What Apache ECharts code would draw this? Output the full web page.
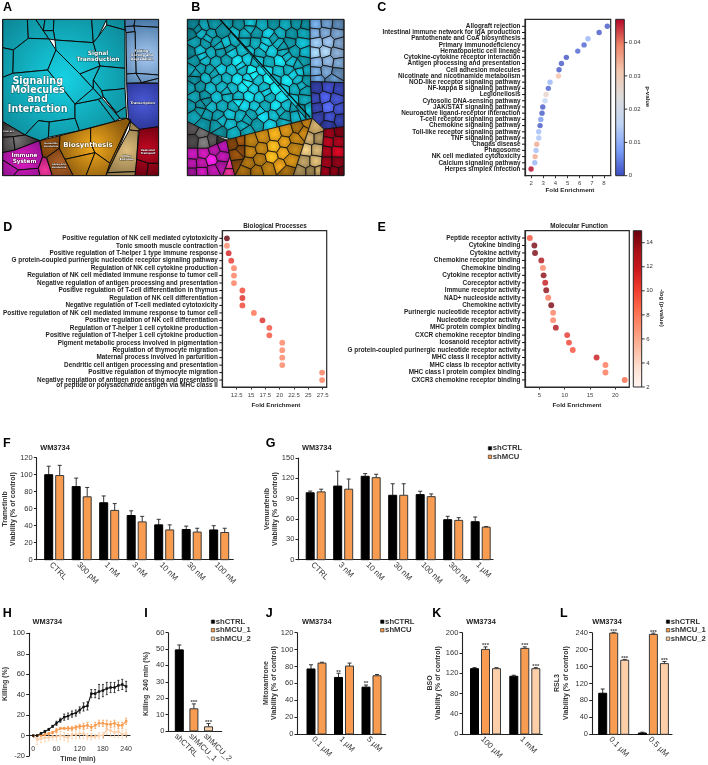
<!DOCTYPE html>
<html><head><meta charset="utf-8">
<style>html,body{margin:0;padding:0;background:#fff}#c{width:708px;height:765px}</style>
<script src="https://cdn.jsdelivr.net/npm/echarts@6/dist/echarts.min.js"></script>
</head><body><div id="c"></div>
<script>
// ---------- Panel C ----------
const cTerms=['Allograft rejection','Intestinal immune network for IgA production','Pantothenate and CoA biosynthesis','Primary immunodeficiency','Hematopoietic cell lineage','Cytokine-cytokine receptor interaction','Antigen processing and presentation','Cell adhesion molecules','Nicotinate and nicotinamide metabolism','NOD-like receptor signaling pathway','NF-kappa B signaling pathway','Legionellosis','Cytosolic DNA-sensing pathway','JAK/STAT signaling pathway','Neuroactive ligand-receptor interaction','T-cell receptor signaling pathway','Chemokine signaling pathway','Toll-like receptor signaling pathway','TNF signaling pathway','Chagas disease','Phagosome','NK cell mediated cytotoxicity','Calcium signaling pathway','Herpes simplex infection'];
const cFold=[8.27,7.6,6.68,6.36,5.84,4.9,4.5,4.3,4.25,3.56,3.42,3.23,3.15,2.96,2.9,2.8,2.74,2.63,2.63,2.47,2.41,2.33,2.3,2.0];
const cP=[.001,.001,.011,.002,.002,.0005,.001,.001,.032,.011,.002,.027,.016,.001,.001,.007,.001,.012,.013,.035,.012,.035,.011,.047];
// ---------- Panel D ----------
const dTerms=['Positive regulation of NK cell mediated cytotoxicity','Tonic smooth muscle contraction','Positive regulation of T-helper 1 type immune response','G protein-coupled purinergic nucleotide receptor signaling pathway','Regulation of NK cell cytokine production','Regulation of NK cell mediated immune response to tumor cell','Negative regulation of antigen processing and presentation','Positive regulation of T-cell differentiation in thymus','Regulation of NK cell differentiation','Negative regulation of T-cell mediated cytotoxicity','Positive regulation of NK cell mediated immune response to tumor cell','Positive regulation of NK cell differentiation','Regulation of T-helper 1 cell cytokine production','Positive regulation of T-helper 1 cell cytokine production','Pigment metabolic process involved in pigmentation','Regulation of thymocyte migration','Maternal process involved in parturition','Dendritic cell antigen processing and presentation','Positive regulation of thymocyte migration','Negative regulation of antigen processing and presentation\nof peptide or polysaccharide antigen via MHC class II'];
const dFold=[10.8,10.8,11.1,11.55,12.03,12.03,12.03,13.5,13.5,13.5,15.5,17,18.2,18.2,20.45,20.45,20.45,20.45,27.4,27.4];
const dLog=[15,7.3,11.5,10.5,7.8,7.8,7.8,9.8,11,10,8.5,11,9.5,9.5,7.5,7.5,7.5,7.5,7.8,7.8];
// ---------- Panel E ----------
const eTerms=['Peptide receptor activity','Cytokine binding','Cytokine activity','Chemokine receptor binding','Chemokine binding','Cytokine receptor activity','Coreceptor activity','Immune receptor activity','NAD+ nucleoside activity','Chemokine activity','Purinergic nucleotide receptor activity','Nucleotide receptor activity','MHC protein complex binding','CXCR chemokine receptor binding','Icosanoid receptor activity','G protein-coupled purinergic nucleotide receptor activity','MHC class II receptor activity','MHC class Ib receptor activity','MHC class I protein complex binding','CXCR3 chemokine receptor binding'];
const eFold=[3.13,4.03,4.16,5.4,5.72,5.85,6.17,6.37,6.76,7.35,7.73,7.73,8.26,10.5,10.85,11.6,16.3,18.05,18.05,21.85];
const eLog=[9.5,14.5,14.5,13,7.5,14,12,14,8,14.5,7.6,7.6,13,10.5,10,9.5,12,8,8,8.6];
// ---------- Bar panels ----------
const fCats=['CTRL','300 pM','1 nM','3 nM','10 nM','30 nM','100 nM'];
const fCtrl=[100,86,67,52,41,35.5,35], fCtrlErr=[10,10,8,5.5,6.5,4,5];
const fMcu=[99,74,58,44.5,35,32.5,32], fMcuErr=[12,11,8,6.5,6,4.5,5];
const gCats=['CTRL','3 nM','10 nM','30 nM','100 nM','300 nM','1 µM'];
const gCtrl=[98.7,108.6,123,95,96,59,56], gCtrlErr=[2.5,22,4,17,5,5,7];
const gMcu=[100,104,121,95,93,58,48], gMcuErr=[4,15,5,17,4,4,1];
const iCats=['shCTRL','shMCU_1','shMCU_2'];
const iVals=[49.5,13.5,2.5], iErr=[3,3,2], iStars=[0,3,3];
const jCats=['0.1 µM','1 µM','5 µM'];
const jCtrl=[77,67,55.5], jCtrlErr=[5,5,2.5], jCtrlStars=[0,2,2];
const jMcu=[84,80.5,69], jMcuErr=[1,3.5,1.5];
const kCats=['100 µM','1 mM'];
const kCtrl=[129,114], kCtrlErr=[2,2];
const kMcu1=[167,169], kMcu1Err=[5,3], kMcu1Stars=[3,3];
const kMcu2=[129,129], kMcu2Err=[2,2], kMcu2Stars=[0,3];
const lCats=['0.1 µM','0.5 µM'];
const lCtrl=[97,3], lCtrlErr=[10,2];
const lMcu1=[239,236], lMcu1Err=[2,3], lMcu1Stars=[3,3];
const lMcu2=[175,167], lMcu2Err=[2,5], lMcu2Stars=[3,3];
// ---------- Panel H ----------
const hTime=[0,10,20,30,40,50,60,70,80,90,100,110,120,130,140,150,160,170,180,190,200,210,220,230,240];
const hCtrl=[0,0,2,4,6,9,12,15,18,19,21,22,25,28,29,41,41,43,44,46,47,47,49,50,48];
const hCtrlErr=[0,1,1,1,1,1,2,2,3,3,3,3,3,4,4,4,4,7,6,6,5,5,5,5,5];
const hMcu1=[0,0,0,1,2,3,5,7,7,7,7,8,9,9,10,8,10,12,12,11,11,12,10,10,14];
const hMcu1Err=[0,1,1,1,1,1,2,1,1,2,2,2,2,3,3,3,3,3,3,4,3,3,3,3,3];
const hMcu2=[0,-4,-3,-2,-2,-1,-1,0,-1,-2,1,1,2,2,-1,-1,-1,0,0,6,5,3,4,1,2];
const hMcu2Err=[1,5,4,4,3,3,4,4,4,4,4,4,5,5,3,3,2,3,3,5,6,5,6,4,4];
// ---------- Panel A: pathway cells (region, vertices) ----------
const aCells=[
['teal',[[8,58],[82,58],[85,115],[40,150],[8,143]]],['teal',[[82,58],[107,58],[147,117],[85,115]]],
['teal',[[40,150],[85,115],[147,117],[168,150],[143,210],[38,220]]],['teal',[[8,143],[40,150],[38,220],[8,232]]],
['teal',[[8,232],[38,220],[143,210],[225,312],[225,355],[148,366],[115,362],[75,405],[8,365]]],
['teal',[[143,210],[168,150],[240,222],[280,265],[225,312]]],['teal',[[225,312],[295,298],[345,364],[238,392],[225,355]]],
['teal',[[225,312],[280,265],[305,293],[295,298]]],['teal',[[295,298],[305,293],[360,355],[345,364]]],
['teal',[[115,362],[148,366],[145,412],[120,422],[75,405]]],['teal',[[148,366],[225,355],[238,392],[145,412]]],
['teal',[[107,58],[135,58],[130,92]]],['teal',[[135,58],[162,58],[160,92],[130,92]]],
['teal',[[162,58],[275,58],[280,128],[165,120],[160,92]]],['teal',[[130,92],[160,92],[165,120],[147,117]]],
['teal',[[275,58],[320,58],[295,110],[280,128]]],['teal',[[320,58],[375,58],[375,90],[320,75]]],
['teal',[[165,120],[280,128],[300,198],[240,222],[168,150]]],['teal',[[295,110],[320,75],[375,90],[375,205],[300,198],[280,128]]],
['teal',[[300,198],[375,205],[375,265],[355,268],[305,272],[280,240]]],['teal',[[240,222],[300,198],[280,240],[280,265]]],
['teal',[[280,240],[305,272],[310,290],[305,293],[280,265]]],['teal',[[305,272],[355,268],[375,265],[378,320],[350,338],[310,290]]],
['teal',[[310,290],[350,338],[378,320],[380,355],[360,355]]],
['ltblue',[[375,58],[405,58],[402,78],[375,80]]],['ltblue',[[405,58],[476,58],[476,82],[402,78]]],
['ltblue',[[375,80],[402,78],[405,95],[378,98]]],['ltblue',[[405,95],[402,78],[476,82],[476,225],[408,220]]],
['ltblue',[[378,98],[405,95],[408,220],[380,222]]],['ltblue',[[380,222],[408,220],[425,248],[380,250]]],
['ltblue',[[408,220],[476,225],[476,235],[425,248]]],['ltblue',[[425,248],[476,235],[476,250]]],
['dkblue',[[380,250],[476,250],[476,380],[418,390],[385,357]]],
['gray',[[8,365],[75,405],[40,410],[8,412]]],['gray',[[8,412],[40,410],[45,450],[8,458]]],['gray',[[40,410],[75,405],[118,422],[45,450]]],
['magenta',[[8,458],[45,450],[118,422],[128,470],[115,505],[55,510],[8,480]]],['magenta',[[8,480],[55,510],[40,527],[8,527]]],
['magenta',[[55,510],[115,505],[120,527],[40,527]]],['pink',[[128,470],[140,475],[157,527],[120,527],[115,505]]],
['brown',[[120,422],[180,407],[178,445],[140,472],[128,470]]],['brown2',[[140,472],[178,445],[195,478],[220,527],[157,527]]],
['gold',[[180,407],[272,384],[272,430],[285,458],[195,478],[178,445]]],['gold',[[272,384],[380,355],[392,360],[330,490],[285,458],[272,430]]],
['gold',[[195,478],[285,458],[258,527],[220,527]]],['gold',[[285,458],[330,490],[318,527],[258,527]]],
['gold',[[330,490],[392,360],[350,460],[322,518],[318,527]]],
['tan',[[380,355],[418,388],[415,393],[388,390],[392,360]]],['tan',[[388,390],[415,393],[408,515],[322,518],[350,460]]],
['tan',[[322,518],[408,515],[405,527],[318,527]]],
['red',[[418,388],[476,380],[476,490],[445,490],[410,478]]],['red',[[410,478],[445,490],[440,527],[405,527]]],['red',[[445,490],[476,490],[476,527],[440,527]]]
];
// ---------- Panel B: region outlines and cell centres ----------
const bRegions={
teal1:{c:'teal',poly:[[562,58],[660,58],[920,358],[695,418],[640,403],[562,365]],seeds:[[581,74],[612,78],[640,71],[574,102],[603,98],[634,104],[664,96],[586,127],[617,131],[646,125],[681,130],[702,124],[570,156],[601,152],[633,158],[661,154],[696,157],[726,150],[586,184],[614,180],[649,186],[679,182],[713,185],[743,180],[766,186],[571,210],[603,206],[629,212],[664,207],[694,211],[728,208],[754,212],[786,209],[585,237],[619,233],[650,238],[681,234],[711,238],[746,235],[774,240],[806,236],[570,263],[601,260],[631,265],[666,261],[697,265],[731,262],[759,267],[793,263],[826,266],[586,291],[614,288],[651,293],[682,289],[716,292],[747,288],[779,293],[807,290],[846,292],[571,319],[603,316],[634,321],[666,317],[701,320],[731,316],[766,321],[794,318],[829,320],[859,317],[884,322],[586,346],[621,343],[654,348],[691,344],[721,348],[756,344],[789,349],[823,345],[854,349],[889,346],[611,372],[651,376],[689,372],[731,376],[771,372],[811,376],[849,368],[662,394],[701,398],[741,392],
[595,88],[626,116],[658,140],[690,146],[608,170],[722,198],[640,222],[760,226],[586,222],[680,276],[742,250],[800,278],[618,304],[716,306],[780,332],[740,360],[664,362],[600,332],[840,334],[905,340]]},
teal2:{c:'teal',poly:[[660,58],[930,58],[932,245],[937,355],[920,358]],seeds:[[681,71],[716,74],[751,70],[786,75],[821,71],[856,74],[891,70],[917,75],[701,98],[736,102],[769,98],[806,103],[841,99],[874,102],[911,99],[736,127],[766,130],[801,126],[836,130],[869,127],[906,130],[746,154],[781,157],[814,153],[851,157],[884,154],[916,157],[776,184],[806,187],[841,183],[874,186],[911,184],[801,212],[836,214],[867,210],[899,214],[921,211],[826,240],[861,242],[894,238],[920,243],[851,270],[886,268],[914,272],[881,300],[911,298],[906,330],[926,328],
[750,86],[820,115],[792,142],[860,170],[895,196],[880,224],[905,258],[848,140]]},
ltblue:{c:'ltblue',poly:[[930,58],[1032,58],[1032,248],[932,245]],seeds:[[948,72],[980,70],[1015,73],[945,100],[975,98],[1010,101],[950,128],[985,125],[1018,130],[945,158],[975,155],[1010,160],[950,188],[985,185],[1015,190],[948,215],[980,212],[1012,218],[950,238],[1000,238]]},
dkblue:{c:'dkblue',poly:[[932,245],[1032,248],[1032,380],[972,388],[937,355]],seeds:[[950,265],[985,262],[1018,268],[945,295],[975,292],[1008,298],[950,325],[985,322],[1018,328],[955,350],[990,352],[1020,358],[985,376]]},
gray:{c:'gray',poly:[[562,365],[640,403],[680,420],[620,445],[562,445]],seeds:[[578,385],[605,400],[580,422],[610,425],[640,418],[662,420]]},
magenta:{c:'magenta',poly:[[562,445],[620,445],[680,420],[690,470],[668,527],[562,527]],seeds:[[578,462],[610,460],[645,450],[670,440],[575,492],[605,490],[635,480],[665,470],[575,517],[605,515],[640,510],[663,498]]},
pink:{c:'pink',poly:[[690,470],[705,527],[668,527]],seeds:[[688,495],[688,517]]},
brown:{c:'brown',poly:[[680,420],[735,405],[735,470],[705,527],[690,470]],seeds:[[700,432],[724,425],[708,465],[725,448],[712,495]]},
gold:{c:'gold',poly:[[735,405],[937,355],[880,527],[705,527],[735,470]],seeds:[[755,425],[790,412],[825,405],[860,395],[895,385],[925,368],[750,455],[785,445],[820,440],[855,425],[885,415],[910,395],[745,490],[780,478],[815,470],[850,460],[880,445],[735,515],[770,515],[805,505],[840,495],[870,480],[860,515]]},
tan:{c:'tan',poly:[[937,355],[972,388],[962,527],[880,527]],seeds:[[945,385],[930,415],[955,415],[920,450],[950,450],[915,485],[945,485],[900,515],[935,515],[955,515]]},
red:{c:'red',poly:[[972,388],[1032,380],[1032,527],[962,527]],seeds:[[990,400],[1018,395],[985,425],[1015,425],[980,455],[1012,455],[980,488],[1012,488],[975,515],[1005,515],[1025,518]]}
};
const bDivider=[[660,58],[930,352]];
// ---------- Styling ----------
const FONT='"Liberation Sans",Arial,sans-serif';
const INK='#222', GREY='#333';
const ORANGE='#F79C50', LIGHT='#FCCFA8';
const REDS=['#fff5f0','#fee0d2','#fcbba1','#fc9272','#fb6a4a','#ef3b2c','#cb181d','#a50f15','#67000d'];
const COOL=['#3b4cc0','#7b9ff9','#c0d4f5','#dddcdc','#f4c6ae','#ee8468','#b40426'];
const PAL={teal:['#16d2e4','#0b7785'],ltblue:['#a8c9f0','#4a7aaa'],dkblue:['#4a5ad8','#28328e'],gray:['#757575','#2a2226'],magenta:['#e41cc4','#7c1084'],pink:['#f0389a','#b01a78'],brown:['#9c5410','#6e3a0a'],brown2:['#b0622a','#7a4014'],gold:['#f4ac1c','#8c5a0e'],tan:['#dcbc7c','#8c7444'],red:['#c40822','#6c0010']};
const GLOW_A={teal:[190,235,300],ltblue:[440,170,110],dkblue:[430,310,90],gray:[50,420,70],magenta:[70,480,90],pink:[135,510,40],brown:[150,435,50],brown2:[180,490,50],gold:[280,440,110],tan:[380,450,90],red:[440,450,80]};
const GLOW_B={teal:[770,240,280],ltblue:[985,150,110],dkblue:[985,310,90],gray:[610,410,70],magenta:[620,480,90],pink:[685,505,40],brown:[710,450,50],gold:[830,440,130],tan:[930,450,90],red:[1000,450,80]};
const TONES=[0.95,1.12,1.0,0.88,1.2,1.04,0.9,1.08,0.98];

function hex(h){const n=parseInt(h.slice(1),16);return[n>>16,(n>>8)&255,n&255];}
function mix(a,b,t){const A=hex(a),B=hex(b);return A.map((v,i)=>v+(B[i]-v)*t);}
function css(c,f){return 'rgb('+c.map(v=>Math.max(0,Math.min(255,Math.round(v*f)))).join(',')+')';}
function clip(poly,a,b,c){const out=[];for(let i=0;i<poly.length;i++){const p=poly[i],q=poly[(i+1)%poly.length];const dp=a*p[0]+b*p[1]-c,dq=a*q[0]+b*q[1]-c;if(dp<=0)out.push(p);if((dp<0&&dq>0)||(dp>0&&dq<0)){const t=dp/(dp-dq);out.push([p[0]+(q[0]-p[0])*t,p[1]+(q[1]-p[1])*t]);}}return out;}
function cellsOf(reg){return reg.seeds.map((s,i)=>{let poly=reg.poly;reg.seeds.forEach((o,j)=>{if(j===i||!poly.length)return;const a=o[0]-s[0],b=o[1]-s[1];poly=clip(poly,a,b,a*(s[0]+o[0])/2+b*(s[1]+o[1])/2);});return{c:reg.c,s,poly};});}
const bCells=[];Object.values(bRegions).forEach(r=>cellsOf(r).forEach(c=>bCells.push(c)));

const grids=[],xAxes=[],yAxes=[],series=[],visualMaps=[],texts=[];
function T(text,x,y,size,opt){opt=opt||{};texts.push({type:'text',x,y,z:100,rotation:opt.rot||0,silent:true,style:{text,fill:opt.fill||INK,font:(opt.weight===undefined?'bold':opt.weight)+' '+size+'px '+FONT,align:opt.align||'center',verticalAlign:'middle',textAlign:opt.align||'center',textVerticalAlign:'middle',lineHeight:opt.lh||size+1,stroke:opt.stroke,lineWidth:opt.lw}});}
function addGrid(g,x,y){grids.push(Object.assign({containLabel:false},g));x.gridIndex=grids.length-1;y.gridIndex=grids.length-1;xAxes.push(x);yAxes.push(y);return grids.length-1;}
const lineS={onZero:false,lineStyle:{color:INK,width:1.1}};
const hidden={type:'value',show:false,splitLine:{show:false}};
const allLabels={showMinLabel:true,showMaxLabel:true,hideOverlap:false};
// side ticks drawn through the panel's own y scale: one short line per tick value
function sideTicks(i,vals,anchorX,dir,len,col){
  series.push({type:'custom',xAxisIndex:i,yAxisIndex:i,silent:true,animation:false,clip:false,z:4,data:vals.map(v=>[anchorX,v]),encode:{x:0,y:1},
    renderItem(p,api){const c=api.coord([api.value(0),api.value(1)]);return{type:'line',shape:{x1:c[0],y1:c[1],x2:c[0]+dir*len,y2:c[1]},style:{stroke:col,lineWidth:1}};}});
}

// ---- treemap panels ----
function treemapPanel(left,top,w,h,x0,x1,y0,y1,cells,local){
  const i=addGrid({left,top,width:w,height:h},Object.assign({},hidden,{min:x0,max:x1}),Object.assign({},hidden,{min:y0,max:y1,inverse:true}));
  series.push({type:'custom',xAxisIndex:i,yAxisIndex:i,clip:true,silent:true,animation:false,data:cells.map((c,k)=>[k]),
    renderItem(p,api){const k=api.value(0),c=cells[k];const pts=c.pts.map(v=>api.coord(v));if(pts.length<3)return;
      return{type:'polygon',shape:{points:pts},style:Object.assign({stroke:'#0b0b0b',lineWidth:local?0.8:1},{fill:c.fill(api)})};}});
  return i;
}
treemapPanel(2.67,19.33,156,156.33,8,476,58,527,aCells.map(([r,pts])=>({pts,fill(api){const g=GLOW_A[r],o=api.coord([g[0],g[1]]);const rr=g[2]/3;return{type:'radial',x:o[0],y:o[1],r:rr,global:true,colorStops:[{offset:0,color:PAL[r][0]},{offset:1,color:PAL[r][1]}]};}})));
const iB=treemapPanel(187.3,19.33,156.7,156.33,562,1032,58,527,bCells.map((c,k)=>({pts:c.poly,fill(){const g=GLOW_B[c.c]||GLOW_B.brown,d=Math.hypot(c.s[0]-g[0],c.s[1]-g[1])/g[2];const b=mix(PAL[c.c][1],PAL[c.c][0],Math.max(0,1-d)),t=TONES[k%TONES.length];return{type:'radial',x:.5,y:.5,r:.62,colorStops:[{offset:0,color:css(b,t*1.12)},{offset:1,color:css(b,t*0.84)}]};}})),true);
series.push({type:'custom',xAxisIndex:iB,yAxisIndex:iB,silent:true,animation:false,data:[0],renderItem(p,api){return{type:'polyline',shape:{points:bDivider.map(v=>api.coord(v))},style:{stroke:'#050505',lineWidth:1.3,fill:null}};}});
[[2.67,19.33,156,156.33],[187.3,19.33,156.7,156.33]].forEach(b=>texts.push({type:'rect',z:99,silent:true,shape:{x:b[0],y:b[1],width:b[2],height:b[3]},style:{fill:null,stroke:'#1a1a1a',lineWidth:1}}));
const tm={fill:'#fff',stroke:'rgba(0,0,0,.45)',lw:1};
T('Signaling\nMolecules\nand\nInteraction',37.7,95.2,9.6,Object.assign({lh:9.4},tm)); texts[texts.length-1].style.font='bold 9.6px "DejaVu Sans"';
[['Signal\nTransduction',98,56.5,5.9,6.8],['Biosynthesis',88,145,6.9,7],['Immune\nSystem',24.5,158.5,5.7,6.7],['Folding,\nSorting and\nDegradation',142,55,3.3,4],['Transcription',142.7,103,3.3,4],['Vesicular\nTransport',148,152,2.8,3.4],['Other\nEnzymes',126.7,158,2.8,3.4],['Cancers',8.5,131,2.4,3],['Nucleotide\nMetabolism',51,145,2.2,2.8],['Amino Acid\nMetabolism',59,166,2.2,2.8]].forEach(a=>{T(a[0],a[1],a[2],a[3],Object.assign({lh:a[4]},tm));texts[texts.length-1].style.font='bold '+a[3]+'px "DejaVu Sans"';});

// ---- dot panels ----
function dotPanel(o){
  const idx=o.terms.map((_,i)=>i);
  const labelAt=idx.map(v=>v+(o.terms[v].indexOf('\n')>=0?0.37:0));
  const i=addGrid({left:o.l,top:o.t,width:o.r-o.l,height:o.b-o.t,show:true,borderColor:'#2a2a2a',borderWidth:1.2,backgroundColor:'#fff'},
   {type:'value',min:o.xmin,max:o.xmax,position:'bottom',splitLine:{show:false},axisLine:{show:true,onZero:false,lineStyle:{color:'#2a2a2a',width:1.2}},axisTick:{show:true,length:2.5,lineStyle:{color:GREY,width:1},customValues:o.ticks},
    axisLabel:Object.assign({customValues:o.ticks,fontFamily:FONT,fontSize:6,color:'#444',margin:5,formatter:v=>String(v)},allLabels)},
   {type:'value',inverse:true,min:o.ymin,max:o.ymax,position:'left',splitLine:{show:false},axisLine:{show:true,onZero:false,lineStyle:{color:'#2a2a2a',width:1.2}},axisTick:{show:false},
    axisLabel:Object.assign({customValues:[o.ymin].concat(labelAt,[o.ymax]),fontFamily:FONT,fontSize:o.fs||6.4,fontWeight:'bold',color:'#1e1e1e',margin:4.5,lineHeight:5.4,formatter:v=>(v===o.ymin||v===o.ymax)?'':o.terms[Math.floor(v)]},allLabels)});
  const si=series.length;
  series.push({type:'scatter',xAxisIndex:i,yAxisIndex:i,symbolSize:o.size,animation:false,silent:true,data:o.terms.map((_,k)=>[o.fold[k],k,o.col[k]]),encode:{x:0,y:1}});
  visualMaps.push({show:false,seriesIndex:si,dimension:2,min:o.cmin,max:o.cmax,inRange:{color:o.cmap}});
  sideTicks(i,idx,o.xmin,-1,3,'#111');
}
function colorbar(o){
  const i=addGrid({left:o.l,top:o.t,width:o.w,height:o.h,show:false},Object.assign({},hidden,{min:0,max:1}),
   {type:'value',position:'right',min:o.min,max:o.max,splitLine:{show:false},axisLine:{show:false,onZero:false},axisTick:{show:false},
    axisLabel:Object.assign({customValues:o.ticks,fontFamily:FONT,fontSize:6,color:'#333',margin:4.5,formatter:v=>String(v)},allLabels)});
  series.push({type:'custom',xAxisIndex:i,yAxisIndex:i,silent:true,animation:false,data:[[0]],z:3,renderItem(p,api){const a=api.coord([0,o.max]),b=api.coord([1,o.min]);return{type:'rect',shape:{x:a[0],y:a[1],width:b[0]-a[0],height:b[1]-a[1]},style:{stroke:'#2a2a2a',lineWidth:1,fill:{type:'linear',x:0,y:1,x2:0,y2:0,colorStops:o.cmap.map((c,k)=>({offset:k/(o.cmap.length-1),color:c}))}}};}});
  sideTicks(i,o.ticks,1,1,3,'#333');
}
const rowScale=(t,b,first,pitch)=>({ymin:(t-first)/pitch,ymax:(b-first)/pitch});
dotPanel(Object.assign({terms:cTerms,fold:cFold,col:cP,l:525,r:610.7,t:19.3,b:175.7,xmin:1.5,xmax:8.55,ticks:[2,3,4,5,6,7,8],size:5.4,cmin:0,cmax:.047,cmap:COOL},rowScale(19.3,175.7,26.3,6.205)));
colorbar({l:615.7,t:19.3,w:8.6,h:156.4,min:0,max:.047,ticks:[0,.01,.02,.03,.04],cmap:COOL});
dotPanel(Object.assign({terms:dTerms,fold:dFold,col:dLog,l:222.3,r:326.7,t:230.7,b:387,xmin:10,xmax:28.2,ticks:[12.5,15,17.5,20,22.5,25,27.5],size:5.8,cmin:2,cmax:15,cmap:REDS},rowScale(230.7,387,238.3,7.46)));
dotPanel(Object.assign({terms:eTerms,fold:eFold,col:eLog,l:525,r:629.3,t:230.7,b:387,xmin:2.18,xmax:22.75,ticks:[5,10,15,20],size:5.9,cmin:2,cmax:15,cmap:REDS},rowScale(230.7,387,238,7.47)));
colorbar({l:633.3,t:230.7,w:8.4,h:156.3,min:2,max:15,ticks:[2,4,6,8,10,12,14],cmap:REDS});
T('p-value',648,96.7,6,{rot:-Math.PI/2});
T('-log (p-value)',661.7,308,6,{rot:-Math.PI/2});
T('Fold Enrichment',570,190.5,6.2);T('Fold Enrichment',276,405,6.2);T('Fold Enrichment',577,405,6.2);
T('Biological Processes',275,226,6.3);T('Molecular Function',579,226.7,6.3);

// ---- bar panels ----
function barPanel(o){
  const toIdx=px=>(px-o.first)/o.pitch;
  const shift=3.5/o.pitch,xmin=toIdx(o.l),xmax=toIdx(o.r);
  const vals=o.cats.map((_,i)=>i-shift);
  const i=addGrid({left:o.l,top:o.t,width:o.r-o.l,height:o.b-o.t},
   {type:'value',min:xmin,max:xmax,splitLine:{show:false},axisLine:lineS,axisTick:{show:false},
    axisLabel:Object.assign({customValues:[xmin].concat(vals,[xmax]),rotate:-45,fontFamily:FONT,fontSize:o.xfs||8,color:GREY,margin:4,lineHeight:7.5,formatter:v=>(v===xmin||v===xmax)?'':o.cats[Math.round(v+shift)]},allLabels)},
   {type:'value',min:0,max:o.ymax,interval:o.step,splitLine:{show:false},axisLine:lineS,axisTick:{show:true,length:2.8,lineStyle:{color:INK,width:1}},
    axisLabel:{fontFamily:FONT,fontSize:7.5,color:GREY,margin:4}});
  const data=[];
  o.rows.forEach((r,k)=>r.vals.forEach((v,g)=>data.push([g,k,v,r.errs[g],(r.stars||[])[g]||0,(r.colors?r.colors[g]:r.color)])));
  const colors=data.map(d=>d[5]);
  series.push({type:'custom',xAxisIndex:i,yAxisIndex:i,silent:true,animation:false,clip:false,encode:{x:0,y:2},data:data.map(d=>d.slice(0,5)),
   renderItem(p,api){const g=api.value(0),k=api.value(1),v=api.value(2),e=api.value(3),st=api.value(4);
    const cx=api.coord([g,0])[0]+(k-(o.rows.length-1)/2)*(o.gap||0),base=api.coord([g,0])[1],top=api.coord([g,v])[1],eT=api.coord([g,v+e])[1];
    const col=colors[p.dataIndex],w=o.bw||8;
    const kids=[{type:'line',shape:{x1:cx,y1:top,x2:cx,y2:eT},style:{stroke:'#333',lineWidth:1}},{type:'line',shape:{x1:cx-2,y1:eT,x2:cx+2,y2:eT},style:{stroke:'#333',lineWidth:1}},
      {type:'rect',shape:{x:cx-w/2,y:top,width:w,height:base-top},style:{fill:col,stroke:col==='#000'?'#000':'#3a3a3a',lineWidth:1}}];
    if(st)kids.push({type:'text',x:cx,y:eT-1.2,style:{text:'*'.repeat(st),fill:'#444',font:'bold 6px '+FONT,align:'center',verticalAlign:'middle',textAlign:'center',textVerticalAlign:'middle'}});
    return{type:'group',children:kids};}});
}
const K='#000';
barPanel({cats:fCats,l:36.7,r:233.3,t:457.7,b:559.7,ymax:120,step:20,first:54.2,pitch:27.5,gap:11,rows:[{vals:fCtrl,errs:fCtrlErr,color:K},{vals:fMcu,errs:fMcuErr,color:ORANGE}]});
barPanel({cats:gCats,l:298.3,r:493,t:458,b:559.7,ymax:150,step:30,first:315.7,pitch:27.5,gap:11,rows:[{vals:gCtrl,errs:gCtrlErr,color:K},{vals:gMcu,errs:gMcuErr,color:ORANGE}]});
barPanel({cats:iCats,l:168.3,r:221.7,t:632.7,b:735,ymax:60,step:10,first:179.3,pitch:14.6,gap:0,rows:[{vals:iVals,errs:iErr,stars:iStars,colors:[K,ORANGE,LIGHT]}]});
barPanel({cats:jCats,l:297.3,r:385.7,t:632.7,b:734,ymax:120,step:20,first:316.5,pitch:27.5,gap:11,rows:[{vals:jCtrl,errs:jCtrlErr,stars:jCtrlStars,color:K},{vals:jMcu,errs:jMcuErr,color:ORANGE}]});
barPanel({cats:kCats,l:462.3,r:542.3,t:632.7,b:734,ymax:200,step:40,first:485.5,pitch:39.3,gap:11,rows:[{vals:kCtrl,errs:kCtrlErr,color:K},{vals:kMcu1,errs:kMcu1Err,stars:kMcu1Stars,color:ORANGE},{vals:kMcu2,errs:kMcu2Err,stars:kMcu2Stars,color:LIGHT}]});
barPanel({cats:lCats,l:592,r:672,t:632.7,b:734.3,ymax:240,step:40,first:613.7,pitch:39.7,gap:11,rows:[{vals:lCtrl,errs:lCtrlErr,color:K},{vals:lMcu1,errs:lMcu1Err,stars:lMcu1Stars,color:ORANGE},{vals:lMcu2,errs:lMcu2Err,stars:lMcu2Stars,color:LIGHT}]});

// ---- panel H ----
const hTicks=[0,60,120,180,240];
const iH=addGrid({left:29,top:633.3,width:101,height:122.7},
 {type:'value',min:-11,max:250,position:'bottom',splitLine:{show:false},axisLine:{show:false,onZero:false},axisTick:{show:false},
  axisLabel:Object.assign({customValues:hTicks,fontFamily:FONT,fontSize:7,color:GREY,margin:-10.5,formatter:v=>String(v)},allLabels)},
 {type:'value',min:-20,max:100,interval:20,splitLine:{show:false},axisLine:lineS,axisTick:{show:true,length:2.8,lineStyle:{color:INK}},axisLabel:{fontFamily:FONT,fontSize:7.5,color:GREY,margin:4}});
xAxes.push({gridIndex:iH,type:'value',min:-11,max:250,position:'bottom',splitLine:{show:false},axisLine:{onZero:true,lineStyle:{color:INK,width:1.1}},axisTick:{show:true,length:2,lineStyle:{color:INK},customValues:hTicks},axisLabel:{show:false}});
[[hMcu2,hMcu2Err,LIGHT],[hMcu1,hMcu1Err,ORANGE],[hCtrl,hCtrlErr,'#111']].forEach(([v,e,col])=>{
  series.push({type:'custom',xAxisIndex:iH,yAxisIndex:iH,silent:true,animation:false,clip:false,data:hTime.map((t,k)=>[t,v[k],e[k]]),encode:{x:0,y:1},
    renderItem(p,api){const t=api.value(0),m=api.value(1),d=api.value(2),a=api.coord([t,m+d]),b=api.coord([t,m-d]);return{type:'group',children:[{type:'line',shape:{x1:a[0],y1:a[1],x2:b[0],y2:b[1]},style:{stroke:col,lineWidth:.8}},{type:'line',shape:{x1:a[0]-1,y1:a[1],x2:a[0]+1,y2:a[1]},style:{stroke:col,lineWidth:.8}},{type:'line',shape:{x1:b[0]-1,y1:b[1],x2:b[0]+1,y2:b[1]},style:{stroke:col,lineWidth:.8}}]};}});
  series.push({type:'line',xAxisIndex:iH,yAxisIndex:iH,silent:true,animation:false,data:hTime.map((t,k)=>[t,v[k]]),symbol:'rect',symbolSize:2.4,lineStyle:{color:col,width:1.1},itemStyle:{color:col}});
});

// ---- text ----
[['A',7.5,7.5],['B',195.7,7.5],['C',381.7,7.5],['D',7.7,227.3],['E',381.7,227.3],['F',6.7,443.3],['G',270.7,443.3],['H',7.3,614],['I',146,614],['J',269.3,614],['K',436.7,614],['L',563.7,614]].forEach(a=>T(a[0],a[1],a[2],12.5,{fill:'#000'}));
[[55,447.7],[316.7,447.7],[47.3,621.7],[316.7,621.7],[481,621.7],[607,621.7]].forEach(a=>T('WM3734',a[0],a[1],7.4));
const R90=Math.PI/2;
[['Trametinib',5,509],['Viability (% of control)',13.3,509],['Vemurafenib',266.7,509],['Viability (% of control)',275,509],['Killing (%)',5,684],['Killing  240 min (%)',146,684],['Mitoxantrone',265.7,683],['Viability (% of control)',274,683],['BSO',430,683],['Viability (% of control)',438.3,683],['RSL3',557.3,683],['Viability (% of control)',566,683]].forEach(a=>T(a[0],a[1],a[2],7,{rot:R90,fill:GREY}));
T('Time (min)',78,758.7,7,{fill:GREY});
function legend(x,y,items){items.forEach((it,k)=>{const yy=y+k*8.5;texts.push({type:'rect',z:100,silent:true,shape:{x:x-1.7,y:yy-1.7,width:3.4,height:3.4},style:{fill:it[1],stroke:'#222',lineWidth:.6}});T(it[0],x+2.8,yy,7.7,{align:'left',fill:GREY});});}
legend(490,448.3,[['shCTRL',K],['shMCU',ORANGE]]);
legend(213,621.7,[['shCTRL',K],['shMCU_1',ORANGE],['shMCU_2',LIGHT]]);
legend(382.3,621.7,[['shCTRL',K],['shMCU',ORANGE]]);
legend(668,621.7,[['shCTRL',K],['shMCU_1',ORANGE],['shMCU_2',LIGHT]]);

const chart=echarts.init(document.getElementById('c'),null,{renderer:'canvas',width:708,height:765});
chart.setOption({animation:false,backgroundColor:'#fff',grid:grids,xAxis:xAxes,yAxis:yAxes,visualMap:visualMaps,series,graphic:{elements:texts}});
</script></body></html>
